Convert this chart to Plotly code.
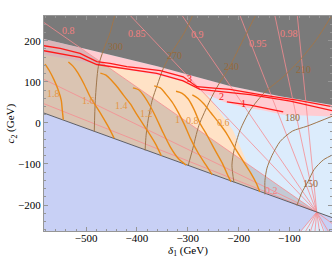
import plotly.graph_objects as go

# ---------------- axes ----------------
X_RANGE = [-583, -16]
Y_RANGE = [-263, 260]
X_TICKS = [-500, -400, -300, -200, -100]
Y_TICKS = [-200, -100, 0, 100, 200]

# ---------------- region boundaries (GeV) ----------------
band_top_x = [-590, -492, -427, -360, -295, -217, -118, -10]
band_top_y = [206, 177, 158, 138, 116, 90, 65, 42]
band_bot_x = [-590, -492, -427, -360, -295, -276, -228, -190, -150, -112, -10]
band_bot_y = [167, 146, 131, 116, 97, 77, 51, 38, 30, 20, 15]

diag_x = [-590, -46, -10]
diag_y = [27, -217, -233]

apex_x, apex_y = -46, -217

peach_edge_x = [-262, -211, -187, -159]
peach_edge_y = [69, -18, -86, -166]

tan_x = [-590, -512, -46, -590]
tan_y = [206, 183, -217, 27]

lav_x = [-590, -46, -10, -10, -590]
lav_y = [27, -217, -233, -270, -270]

wedge_x = [-46, -81, -27]
wedge_y = [-217, -270, -270]

# ---------------- red contours ----------------
redA_x = [-590, -551, -512, -479, -453, -420, -394, -354, -309, -282, -243, -217, -152, -85, -10]
redA_y = [189, 181.5, 169, 149, 145, 137, 133, 127, 112, 88, 84, 81.5, 67.6, 55.4, 38]
redB_x = [-590, -551, -512, -479, -427, -361, -309, -276, -211, -177, -98, -10]
redB_y = [177, 169, 159.5, 142, 133, 120.5, 102, 81.5, 73, 69, 53, 28]
redC_x = [-223, -190, -177, -112]
redC_y = [51, 45.6, 43, 27]
red_lbl_x = [-297, -234, -190]
red_lbl_y = [108, 64, 47]
red_lbl_t = ["3", "2", "1"]

# ---------------- pink rays (from apex) ----------------
ray_end_x = [-590, -590, -590, -420, -316, -200, -130, -85,
             -82, -71, -60, -50, -40, -30, -20, -10]
ray_end_y = [50, 110, 250, 270, 270, 270, 270, 270,
             -270, -270, -270, -270, -270, -270, -270, -250]
pink_lbl_x = [-535, -400, -280, -162, -100, -136]
pink_lbl_y = [224, 218, 214, 194, 218, -164]
pink_lbl_t = ["0.8", "0.85", "0.9", "0.95", "0.98", "0.2"]

# ---------------- brown contours ----------------
b300_x = [-443, -453, -466, -476, -482, -484]
b300_y = [265, 219, 177, 137, 55, -21]
b270_x = [-289, -307, -331, -348, -360, -370, -378, -382, -384]
b270_y = [265, 219, 172, 133, 92, 55, 7, -30, -67]
b240_x = [-165, -191, -218, -240, -256, -278, -291, -299]
b240_y = [265, 202, 136, 92, 55, -6, -67, -103]
b210_x = [-18, -47, -79, -112, -148, -177, -197, -209, -213, -209]
b210_y = [258, 202, 153, 112, 75, 31, -18, -67, -103, -145]
b180_x = [-10, -65, -94, -118, -134, -144, -148, -148]
b180_y = [19, -8, -20, -45, -79, -110, -140, -174]
b150_x = [-10, -33, -51, -63, -76, -85]
b150_y = [-75, -90, -113, -142, -171, -201]
brown_lbl_x = [-443, -326, -213, -72, -94, -59]
brown_lbl_y = [185, 165, 137, 130, 13, -148]
brown_lbl_t = ["300", "270", "240", "210", "180", "150"]

# ---------------- orange contours ----------------
o18_x = [-581, -573, -563, -555, -549, -547, -545]
o18_y = [143, 128, 104, 80, 55, 31, 8]
o16_x = [-535, -526, -516, -504, -492, -472, -457, -445]
o16_y = [148, 138, 121, 94, 63, 24, -8, -37]
o14_x = [-472, -461, -449, -437, -427, -413, -402, -380, -364, -352]
o14_y = [121, 116, 102, 85, 68, 46, 24, -18, -50, -80]
o12_x = [-408, -396, -386, -374, -362, -350, -335, -319, -303]
o12_y = [85, 80, 65, 41, 12, -20, -57, -86, -103]
o10_x = [-366, -354, -343, -331, -319, -307, -295, -280, -264, -252]
o10_y = [90, 85, 70, 51, 26, -3, -37, -72, -103, -126]
o08_x = [-323, -311, -299, -287, -276, -262, -246, -232, -221, -215]
o08_y = [77, 72, 58, 31, -1, -30, -67, -98, -128, -143]
o06_x = [-291, -280, -268, -254, -238, -224, -209, -193, -177, -165, -158]
o06_y = [68, 60, 46, 24, -1, -25, -57, -89, -120, -147, -168]
orange_lbl_x = [-565, -496, -430, -381, -321, -291, -230]
orange_lbl_y = [72, 55, 43, 24, 9, 7, 2]
orange_lbl_t = ["1.8", "1.6", "1.4", "1.2", "1", "0.8", "0.6"]

# ---------------- colours ----------------
C_BLUE = "rgb(220,236,252)"
C_PEACH = "rgb(255,226,198)"
C_PINK = "rgb(255,204,210)"
C_GRAY = "rgb(122,122,122)"
C_TAN = "rgba(150,140,140,0.35)"
C_LAV = "rgb(200,208,245)"

fig = go.Figure()


def poly(xs, ys, color):
    fig.add_trace(go.Scatter(x=xs, y=ys, fill="toself", fillcolor=color, mode="none",
                             hoverinfo="skip", showlegend=False))


def line(xs, ys, color, width, shape="linear"):
    fig.add_trace(go.Scatter(x=xs, y=ys, mode="lines",
                             line=dict(color=color, width=width, shape=shape, smoothing=0.7),
                             hoverinfo="skip", showlegend=False))


# fills
poly(band_bot_x[:6] + peach_edge_x + [diag_x[0]], band_bot_y[:6] + peach_edge_y + [diag_y[0]], C_PEACH)
poly(band_top_x + band_bot_x[::-1], band_top_y + band_bot_y[::-1], C_PINK)
poly(band_top_x + [band_top_x[-1], band_top_x[0]], band_top_y + [270, 270], C_GRAY)
poly(tan_x, tan_y, C_TAN)
poly(lav_x, lav_y, C_LAV)
poly(wedge_x, wedge_y, C_BLUE)

# pink rays
for ex, ey in zip(ray_end_x, ray_end_y):
    line([apex_x, ex], [apex_y, ey], "rgb(246,140,145)", 0.8)

# diagonal boundary
line(diag_x, diag_y, "rgb(95,95,100)", 1.0)

# brown contours
for bx, by in [(b300_x, b300_y), (b270_x, b270_y), (b240_x, b240_y),
               (b210_x, b210_y), (b180_x, b180_y), (b150_x, b150_y)]:
    line(bx, by, "rgb(160,118,75)", 1.0, "spline")

# orange contours
for ox, oy in [(o18_x, o18_y), (o16_x, o16_y), (o14_x, o14_y), (o12_x, o12_y),
               (o10_x, o10_y), (o08_x, o08_y), (o06_x, o06_y)]:
    line(ox, oy, "rgb(234,138,22)", 1.4, "spline")

# red contours
line(redA_x, redA_y, "rgb(255,25,25)", 1.3)
line(redB_x, redB_y, "rgb(255,25,25)", 1.3)
line(redC_x, redC_y, "rgb(255,25,25)", 1.3)

FONT = "Liberation Serif"
ann = []


def labels(xs, ys, ts, color):
    for x, y, t in zip(xs, ys, ts):
        ann.append(dict(x=x, y=y, text=t, showarrow=False, xref="x", yref="y",
                        font=dict(family=FONT, size=10, color=color)))


labels(pink_lbl_x, pink_lbl_y, pink_lbl_t, "rgb(242,128,128)")
labels(brown_lbl_x, brown_lbl_y, brown_lbl_t, "rgb(150,105,60)")
labels(orange_lbl_x, orange_lbl_y, orange_lbl_t, "rgb(228,150,70)")
labels(red_lbl_x, red_lbl_y, red_lbl_t, "rgb(240,20,20)")

ann.append(dict(x=0.5, y=-0.095, xref="paper", yref="paper", showarrow=False,
                text="<i>δ</i><sub>1</sub> (GeV)", yanchor="middle",
                font=dict(family=FONT, size=11, color="black")))
ann.append(dict(x=-0.115, y=0.5, xref="paper", yref="paper", showarrow=False,
                text="<i>c</i><sub>2</sub> (GeV)", textangle=-90, xanchor="center",
                font=dict(family=FONT, size=11, color="black")))

axis_common = dict(showgrid=False, zeroline=False, showline=True, mirror="allticks",
                   linecolor="rgb(150,150,150)", linewidth=1, ticks="inside", ticklen=4,
                   tickcolor="rgb(150,150,150)", tickfont=dict(family=FONT, size=11, color="black"),
                   minor=dict(ticks="inside", ticklen=2, dtick=20, tickcolor="rgb(150,150,150)"))

fig.update_layout(
    width=332, height=263,
    margin=dict(l=44, r=0, t=16, b=32),
    paper_bgcolor="white", plot_bgcolor=C_BLUE,
    xaxis=dict(range=X_RANGE, tickvals=X_TICKS, ticklabelstandoff=-3, **axis_common),
    yaxis=dict(range=Y_RANGE, tickvals=Y_TICKS, **axis_common),
    annotations=ann,
    showlegend=False,
)

fig.write_html("out.html", config={"displayModeBar": False},
               post_script="document.body.style.margin='0px';document.body.style.overflow='hidden';")
